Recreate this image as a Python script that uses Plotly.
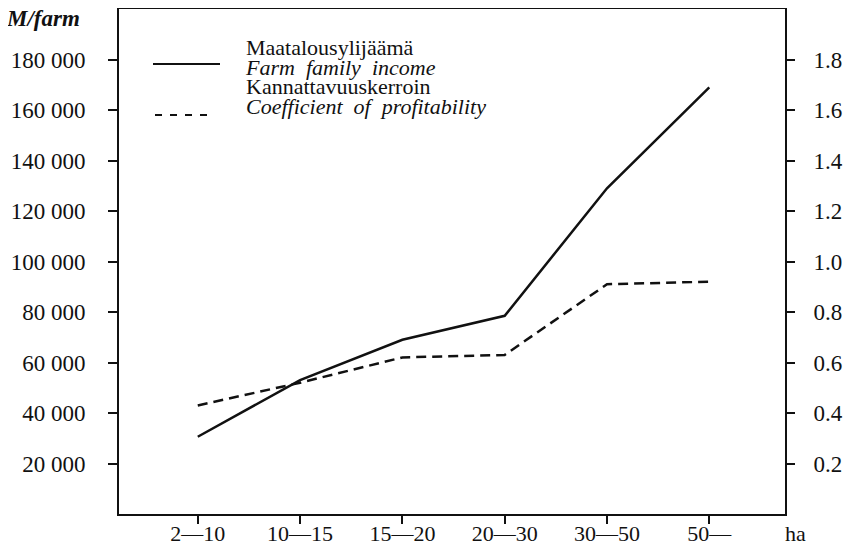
import plotly.graph_objects as go

# data
size_classes = ["2—10", "10—15", "15—20", "20—30", "30—50", "50—"]
farm_income = [30600, 53000, 69000, 78500, 129000, 169000]          # M/farm, left axis
profitability = [0.43, 0.52, 0.62, 0.63, 0.91, 0.92]                # coefficient, right axis

left_ticks = [20000, 40000, 60000, 80000, 100000, 120000, 140000, 160000, 180000]
right_ticks = [0.2, 0.4, 0.6, 0.8, 1.0, 1.2, 1.4, 1.6, 1.8]

legend_text = ["Maatalousylijäämä", "<i>Farm  family  income</i>",
               "Kannattavuuskerroin", "<i>Coefficient  of  profitability</i>"]

FONT = "Liberation Serif"
INK = "#111111"

# page is 855x556; the html body keeps an 8px margin all round
OFF = 8
W, H = 855, 556
# plot area in page pixels
PX0, PX1 = 119, 785
PY0, PY1 = 9, 514


def px(x):
    return (x - PX0) / (PX1 - PX0)


def py(y):
    return (PY1 - y) / (PY1 - PY0)


fig = go.Figure()

fig.add_trace(go.Scatter(
    x=size_classes, y=farm_income, mode="lines",
    line=dict(color=INK, width=2.5),
    showlegend=False, yaxis="y",
))
fig.add_trace(go.Scatter(
    x=size_classes, y=profitability, mode="lines",
    line=dict(color=INK, width=2.5, dash="10px,6px"),
    showlegend=False, yaxis="y2",
))

# hand-made legend like the printed one
fig.add_shape(type="line", xref="paper", yref="paper",
              x0=px(153), x1=px(220), y0=py(64), y1=py(64),
              line=dict(color=INK, width=2))
fig.add_shape(type="line", xref="paper", yref="paper",
              x0=px(155), x1=px(212), y0=py(115), y1=py(115),
              line=dict(color=INK, width=2, dash="7px,8px"))

# one text block; smaller base size keeps the line pitch tight like the print
fig.add_annotation(
    text="<br>".join('<span style="font-size:22px">%s</span>' % t for t in legend_text),
    xref="paper", yref="paper", x=px(243), y=py(33),
    xanchor="left", yanchor="top", align="left", showarrow=False,
    font=dict(family=FONT, size=15, color=INK),
)

fig.add_annotation(text="<b><i>M/farm</i></b>", xref="paper", yref="paper",
                   x=px(82), y=py(18), xanchor="right", yanchor="middle",
                   showarrow=False, font=dict(family=FONT, size=23, color=INK))
fig.add_annotation(text="ha", xref="paper", yref="paper",
                   x=px(795), y=py(533), xanchor="center", yanchor="middle",
                   showarrow=False, font=dict(family=FONT, size=22, color=INK))

fig.update_layout(
    width=W - 2 * OFF, height=H - 2 * OFF,
    margin=dict(l=PX0 - OFF, r=W - OFF - PX1, t=PY0 - OFF, b=H - OFF - PY1, pad=0),
    paper_bgcolor="white", plot_bgcolor="white",
    font=dict(family=FONT, size=23, color=INK),
    separators=". ",
    xaxis=dict(
        type="category", range=[-0.77, 5.74], automargin=False,
        tickvals=size_classes, ticks="outside", ticklen=8, tickwidth=2,
        tickcolor=INK, showline=True, linewidth=2, linecolor=INK, mirror=True,
        showgrid=False, zeroline=False, ticklabelstandoff=-9,
        tickfont=dict(family=FONT, size=22, color=INK),
    ),
    yaxis=dict(
        range=[0, 200000], tickvals=left_ticks, tickformat=",d", automargin=False,
        ticks="outside", ticklen=9, tickwidth=2, tickcolor=INK,
        showline=True, linewidth=2, linecolor=INK,
        showgrid=False, zeroline=False, ticklabelstandoff=18,
    ),
    yaxis2=dict(
        range=[0, 2.0], tickvals=right_ticks, tickformat=".1f", automargin=False,
        overlaying="y", side="right",
        ticks="outside", ticklen=8, tickwidth=2, tickcolor=INK,
        showline=True, linewidth=2, linecolor=INK,
        showgrid=False, zeroline=False, ticklabelstandoff=14,
    ),
)

fig.write_html("out.html")
